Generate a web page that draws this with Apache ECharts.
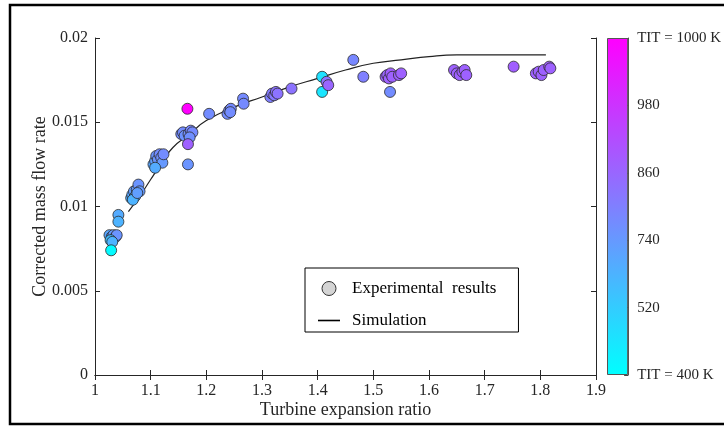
<!DOCTYPE html>
<html><head><meta charset="utf-8">
<script src="https://cdn.jsdelivr.net/npm/echarts@6/dist/echarts.min.js"></script>
<style>html,body{margin:0;padding:0;background:#fff}#c{width:724px;height:428px}</style>
</head><body><div id="c"></div>
<script>
// Experimental points: expansion ratio, corrected mass flow rate, colour level on colorbar (0 = 400 K end, 1 = 1000 K end)
const expX = [1.026,1.030,1.033,1.037,1.039,1.028,1.031,1.029,1.042,1.042,
  1.065,1.067,1.070,1.072,1.075,1.078,1.080,1.068,1.076,
  1.105,1.108,1.110,1.113,1.116,1.119,1.121,1.123,1.108,
  1.155,1.158,1.161,1.168,1.172,1.175,1.170,1.167,1.167,1.166,
  1.205,1.238,1.241,1.244,1.243,1.266,1.267,
  1.315,1.318,1.322,1.325,1.328,1.353,
  1.408,1.408,1.416,1.419,1.464,1.482,
  1.522,1.525,1.528,1.531,1.534,1.546,1.550,1.530,
  1.645,1.650,1.655,1.660,1.664,1.667,
  1.752,1.792,1.797,1.802,1.806,1.816,1.818];
const expY = [0.0083,0.0082,0.0083,0.0082,0.0083,0.0080,0.0079,0.0074,0.0095,0.0091,
  0.0105,0.0107,0.0109,0.0106,0.0110,0.0113,0.0109,0.0104,0.0108,
  0.0125,0.0127,0.0130,0.0128,0.0131,0.0129,0.0126,0.0131,0.0123,
  0.0143,0.0144,0.0142,0.0143,0.0145,0.0144,0.0141,0.0137,0.0125,0.0158,
  0.0155,0.0155,0.0157,0.0158,0.0156,0.0164,0.0161,
  0.0165,0.0167,0.0166,0.0168,0.0167,0.0170,
  0.0177,0.0168,0.0174,0.0172,0.0187,0.0177,
  0.0177,0.0178,0.0176,0.0179,0.0177,0.0178,0.0179,0.0168,
  0.0181,0.0179,0.0178,0.0180,0.0181,0.0178,
  0.0183,0.0179,0.0180,0.0178,0.0181,0.0183,0.0182];
const expLevel = [0.35,0.38,0.40,0.40,0.42,0.25,0.30,0.02,0.33,0.30,
  0.32,0.35,0.38,0.35,0.40,0.42,0.40,0.30,0.38,
  0.35,0.38,0.42,0.42,0.45,0.44,0.40,0.45,0.33,
  0.45,0.45,0.43,0.45,0.47,0.46,0.44,0.62,0.42,1.00,
  0.45,0.45,0.47,0.46,0.45,0.46,0.46,
  0.50,0.52,0.53,0.55,0.55,0.55,
  0.12,0.10,0.55,0.60,0.47,0.50,
  0.62,0.60,0.62,0.63,0.62,0.62,0.62,0.45,
  0.62,0.62,0.62,0.63,0.62,0.62,
  0.63,0.62,0.62,0.62,0.62,0.63,0.62];
// Simulation curve
const simX = [1.06,1.08,1.10,1.12,1.14,1.17,1.20,1.25,1.30,1.35,1.40,1.45,1.50,1.55,1.60,1.65,1.70,1.75,1.81];
const simY = [0.0097,0.0106,0.0116,0.0126,0.0135,0.0143,0.0151,0.0159,0.0165,0.0171,0.0176,0.0181,0.0185,0.0187,0.0189,0.0190,0.0190,0.0190,0.0190];
// Colorbar tick labels (bottom to top)
const cbLabels = ['TIT = 400 K','520','740','860','980','TIT = 1000 K'];

const FONT = "'Liberation Serif','Times New Roman',serif";
const AX = '#262626';
const chart = echarts.init(document.getElementById('c'));
const expData = expX.map((x,i)=>[x,expY[i],expLevel[i]]);
const simData = simX.map((x,i)=>[x,simY[i]]);
const cbValues = [cbLabels.length-1];

const axisCommon = {
  axisLine:{show:true,lineStyle:{color:AX,width:1}},
  axisTick:{show:true,inside:true,length:5,lineStyle:{color:AX}},
  splitLine:{show:false}
};
chart.setOption({
  animation:false,
  textStyle:{fontFamily:FONT},
  graphic:[{type:'rect',shape:{x:10,y:5,width:740,height:419},style:{fill:'none',stroke:'#000',lineWidth:2.5},silent:true}],
  grid:[{left:95,right:128,top:38,bottom:53},{left:607,width:23,top:38,bottom:53}],
  visualMap:[{type:'continuous',show:false,seriesIndex:0,dimension:2,min:0,max:1,inRange:{color:['#00ffff','#ff00ff']}}],
  xAxis:[
    Object.assign({type:'value',gridIndex:0,min:1,max:1.9,interval:0.1,position:'bottom',
      name:'Turbine expansion ratio',nameLocation:'middle',nameGap:26,nameMoveOverlap:false,
      nameTextStyle:{fontFamily:FONT,fontSize:18,color:AX},
      axisLabel:{fontFamily:FONT,fontSize:16,color:AX,margin:8}},axisCommon),
    Object.assign({type:'value',gridIndex:0,min:1,max:1.9,interval:0.1,position:'top',axisLabel:{show:false}},axisCommon),
    {type:'category',gridIndex:1,data:['c'],show:false}
  ],
  yAxis:[
    Object.assign({type:'value',gridIndex:0,min:0,max:0.02,interval:0.005,position:'left',
      name:'Corrected mass flow rate',nameLocation:'middle',nameGap:46,nameMoveOverlap:false,
      nameTextStyle:{fontFamily:FONT,fontSize:18,color:AX},
      axisLabel:{fontFamily:FONT,fontSize:16,color:AX,margin:7}},axisCommon),
    Object.assign({type:'value',gridIndex:0,min:0,max:0.02,interval:0.005,position:'right',axisLabel:{show:false}},axisCommon),
    {type:'value',gridIndex:1,min:0,max:cbLabels.length-1,interval:1,position:'right',
      axisLine:{show:true,lineStyle:{color:'#555'}},
      axisTick:{show:true,inside:true,length:4,lineStyle:{color:'#444'}},
      splitLine:{show:false},
      axisLabel:{fontFamily:FONT,fontSize:15,color:AX,margin:9,formatter:(v)=>cbLabels[Math.round(v)]}}
  ],
  legend:{
    orient:'vertical',left:305,top:268,
    backgroundColor:'#fff',borderColor:'#000',borderWidth:1,
    padding:[12,22,3,13],itemGap:15,itemWidth:22,itemHeight:14,
    textStyle:{fontFamily:FONT,fontSize:17,color:'#000',padding:[0,0,0,7]},
    data:[
      {name:'Experimental  results',icon:'circle',itemStyle:{color:'#d4d4d4',borderColor:'#333',borderWidth:1}},
      {name:'Simulation',icon:'path://M0,0L22,0L22,1.6L0,1.6Z',itemStyle:{color:'#000',borderWidth:0}}
    ]
  },
  series:[
    {name:'Experimental  results',type:'scatter',xAxisIndex:0,yAxisIndex:0,data:expData,symbolSize:11,
      itemStyle:{borderColor:'#2a2a2a',borderWidth:0.8,opacity:1},z:3},
    {name:'Simulation',type:'line',xAxisIndex:0,yAxisIndex:0,data:simData,smooth:true,symbol:'none',
      lineStyle:{color:'#222',width:1.2},itemStyle:{color:'#222'},z:2},
    {name:'cb',type:'bar',xAxisIndex:2,yAxisIndex:2,data:cbValues,barWidth:'100%',silent:true,
      itemStyle:{borderColor:'#555',borderWidth:1,color:new echarts.graphic.LinearGradient(0,0,0,1,[{offset:0,color:'#ff00ff'},{offset:1,color:'#00ffff'}])}}
  ]
});
</script></body></html>
